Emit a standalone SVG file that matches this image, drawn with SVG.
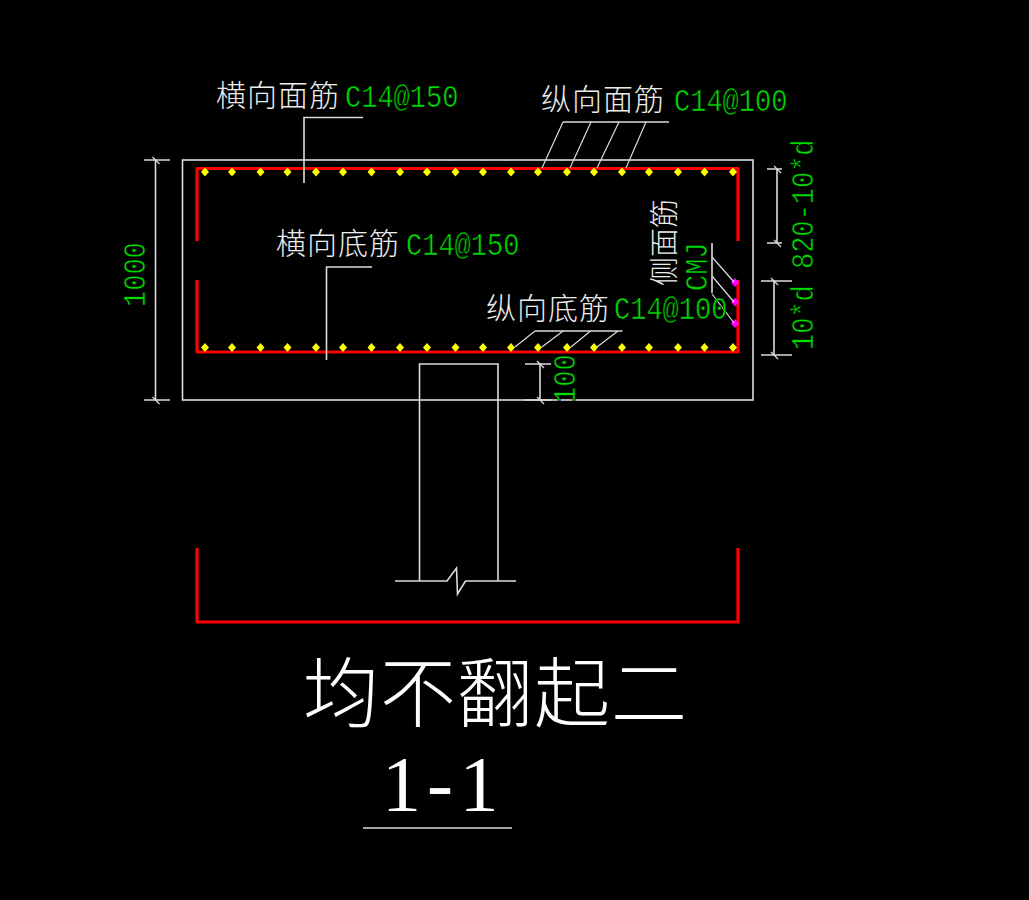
<svg xmlns="http://www.w3.org/2000/svg" width="1029" height="900" viewBox="0 0 1029 900">
<style>
.l{fill:none;stroke:#dcdcdc;stroke-width:1.6}
.s{fill:none;stroke:#dcdcdc;stroke-width:1.2}
.r{fill:none;stroke:#ff0000;stroke-width:3.2;stroke-linejoin:round}
.c{font-family:"Noto Sans CJK SC","Noto Sans CJK JP",sans-serif;font-size:30px;font-weight:300;fill:#ececec;letter-spacing:1px}
.g{font-family:"Liberation Mono",monospace;font-size:27px;fill:#00e000;stroke:#000;stroke-width:.55;paint-order:normal}
</style>
<defs>
<path id="d" d="M0-4.500L4 0 0 4.500-4 0Z" fill="#ffff00"/>
<path id="m" d="M0-4.500L4 0 0 4.500-4 0Z" fill="#ff00ff"/>
<path id="t" d="M-3-3L4 4" stroke="#dcdcdc" stroke-width="1.200" fill="none"/>
</defs>
<rect width="1029" height="900" fill="#000"/>
<g id="outline">
<rect class="l" x="182.500" y="160" width="570.500" height="240"/>
<path class="l" d="M419.500 400V364H498V581M419.500 400V581M395 581H447L456.500 568L457.500 594L465.500 581H516"/>
</g>
<g id="rebar">
<path class="r" d="M197 241V168.500H738V241"/>
<path class="r" d="M197 280V352H738V280"/>
<path class="r" d="M197 548V622H738V548"/>
</g>
<g id="bars-top">
<use href="#d" x="205" y="172"/><use href="#d" x="232" y="172"/><use href="#d" x="260.500" y="172"/><use href="#d" x="287.500" y="172"/><use href="#d" x="316" y="172"/><use href="#d" x="343" y="172"/><use href="#d" x="371.500" y="172"/><use href="#d" x="400" y="172"/><use href="#d" x="427" y="172"/><use href="#d" x="455.500" y="172"/><use href="#d" x="483" y="172"/><use href="#d" x="511" y="172"/><use href="#d" x="538" y="172"/><use href="#d" x="567" y="172"/><use href="#d" x="594" y="172"/><use href="#d" x="622" y="172"/><use href="#d" x="649" y="172"/><use href="#d" x="678" y="172"/><use href="#d" x="704.500" y="172"/><use href="#d" x="733" y="172"/>
</g>
<g id="bars-bottom">
<use href="#d" x="205" y="347.500"/><use href="#d" x="232" y="347.500"/><use href="#d" x="260.500" y="347.500"/><use href="#d" x="287.500" y="347.500"/><use href="#d" x="316" y="347.500"/><use href="#d" x="343" y="347.500"/><use href="#d" x="371.500" y="347.500"/><use href="#d" x="400" y="347.500"/><use href="#d" x="427" y="347.500"/><use href="#d" x="455.500" y="347.500"/><use href="#d" x="483" y="347.500"/><use href="#d" x="511" y="347.500"/><use href="#d" x="538" y="347.500"/><use href="#d" x="567" y="347.500"/><use href="#d" x="594" y="347.500"/><use href="#d" x="622" y="347.500"/><use href="#d" x="649" y="347.500"/><use href="#d" x="678" y="347.500"/><use href="#d" x="704.500" y="347.500"/><use href="#d" x="733" y="347.500"/>
</g>
<g id="bars-side">
<use href="#m" x="735" y="282.500"/><use href="#m" x="735" y="302"/><use href="#m" x="735" y="323.500"/>
</g>
<g id="leaders">
<path class="l" d="M363 117.500H304V183"/>
<path class="l" d="M372 267H326.500V360"/>
<path class="l" d="M669 122H563"/>
<path class="s" d="M563 122L542 168M591 122L570 168M619 122L597 168M646 122L626 168"/>
<path class="l" d="M622.500 331H535"/>
<path class="s" d="M535 331L515 347M563 331L542 347M590.500 331L571 347M618 331L597 347"/>
<path class="l" d="M712 243V293"/>
<path class="s" d="M712 257L734 282M712 276L734 302M712 294L734 323"/>
</g>
<g id="dimensions">
<path class="l" d="M144 160H170M144 400H170M155.500 160V400"/>
<use href="#t" x="155.500" y="160"/><use href="#t" x="155.500" y="400"/>
<path class="l" d="M767 169H782M767 243H782M777 169V243"/>
<use href="#t" x="777" y="169"/><use href="#t" x="777" y="243"/>
<path class="l" d="M761 281H792M761 355H792M774 281V355"/>
<use href="#t" x="774" y="281"/><use href="#t" x="774" y="355"/>
<path class="l" d="M525 364H551M525 400H551M540 364V400"/>
<use href="#t" x="540" y="364"/><use href="#t" x="540" y="400"/>
</g>
<g id="labels">
<text class="c" x="216" y="106">横向面筋</text>
<text class="g" transform="translate(345 107) scale(1 1.18)">C14@150</text>
<text class="c" x="541" y="110">纵向面筋</text>
<text class="g" transform="translate(674 111) scale(1 1.18)">C14@100</text>
<text class="c" x="276" y="254">横向底筋</text>
<text class="g" transform="translate(406 255) scale(1 1.18)">C14@150</text>
<text class="c" x="486" y="319">纵向底筋</text>
<text class="g" transform="translate(614 319) scale(1 1.18)">C14@100</text>
<text class="c" transform="translate(675 286) rotate(-90)" style="font-size:29px;letter-spacing:0">侧面筋</text>
<text class="g" transform="translate(707 291) rotate(-90) scale(1 1.18)">CMJ</text>
<text class="g" transform="translate(145 307) rotate(-90) scale(1 1.18)">1000</text>
<text class="g" transform="translate(575 403) rotate(-90) scale(1 1.18)">100</text>
<text class="g" transform="translate(813 350) rotate(-90) scale(1 1.18)">10*d 820-10*d</text>
</g>
<g id="title">
<text x="303" y="721" style="font-family:'Noto Sans CJK SC','Noto Sans CJK JP',sans-serif;font-size:76px;font-weight:300;fill:#fff;letter-spacing:1px">均不翻起二</text>
<text x="382 427 459.500" y="810" style="font-family:'Liberation Serif',serif;font-size:78px;fill:#fff">1-1</text>
<path class="l" d="M363 828H512"/>
</g>
</svg>
